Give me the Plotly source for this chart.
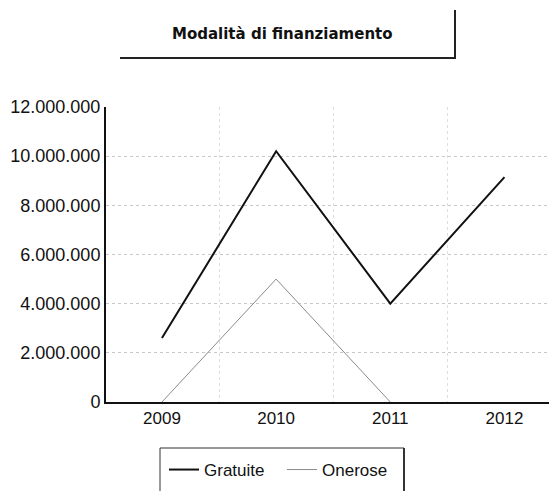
import plotly.graph_objects as go

years = ["2009", "2010", "2011", "2012"]
gratuite = [2600000, 10200000, 4000000, 9150000]
onerose = [0, 5000000, 0, None]
y_ticks = [0, 2000000, 4000000, 6000000, 8000000, 10000000, 12000000]

OFF = 8  # page body margin
W, H = 557 - OFF, 491 - OFF
L, R, T, B = 106 - OFF, 0, 107 - OFF, 89
pw = W - L - R
ph = H - T - B

def px(x):
    return (x - OFF - L) / pw

def py(y):
    return (T + ph - (y - OFF)) / ph

fig = go.Figure()
fig.add_trace(go.Scatter(x=years, y=gratuite, name="Gratuite", mode="lines",
                         line=dict(color="#111111", width=2)))
fig.add_trace(go.Scatter(x=years, y=onerose, name="Onerose", mode="lines",
                         line=dict(color="#8a8a8a", width=1)))

font = "Liberation Sans, Arial, sans-serif"

shapes = [
    # title box (bottom and right border)
    dict(type="line", xref="paper", yref="paper", x0=px(120), x1=px(456), y0=py(58), y1=py(58),
         line=dict(color="#222", width=2)),
    dict(type="line", xref="paper", yref="paper", x0=px(455), x1=px(455), y0=py(10), y1=py(59),
         line=dict(color="#222", width=2)),
    # legend box
    dict(type="line", xref="paper", yref="paper", x0=px(160), x1=px(404), y0=py(448), y1=py(448),
         line=dict(color="#333", width=1)),
    dict(type="line", xref="paper", yref="paper", x0=px(160), x1=px(160), y0=py(448), y1=py(495),
         line=dict(color="#333", width=1)),
    dict(type="line", xref="paper", yref="paper", x0=px(404), x1=px(404), y0=py(448), y1=py(495),
         line=dict(color="#333", width=2)),
]

fig.update_layout(
    width=W, height=H,
    margin=dict(l=L, r=R, t=T, b=B),
    paper_bgcolor="white", plot_bgcolor="white",
    separators=",.",
    font=dict(family=font, size=18, color="#111"),
    showlegend=True,
    legend=dict(orientation="h", x=px(164), y=py(452), xanchor="left", yanchor="top",
                font=dict(size=17), bgcolor="rgba(0,0,0,0)", borderwidth=0,
                entrywidth=73, entrywidthmode="pixels"),
    shapes=shapes,
    annotations=[dict(text="<b>Modalità di finanziamento</b>", xref="paper", yref="paper",
                      x=px(282), y=py(34), xanchor="center", yanchor="middle",
                      showarrow=False, font=dict(size=15, family="DejaVu Sans, sans-serif"))],
    xaxis=dict(type="category", range=[-0.49, 3.46], showline=True, linecolor="#111", linewidth=2,
               showgrid=True, gridcolor="#dedede", griddash="dot", gridwidth=1,
               tickson="boundaries", ticks="", tickfont=dict(size=17), zeroline=False),
    yaxis=dict(range=[0, 12000000], tickvals=y_ticks, tickformat=",d", showline=True,
               linecolor="#111", linewidth=2, showgrid=True, gridcolor="#c8c8c8",
               griddash="dot", gridwidth=1, ticks="", tickfont=dict(size=18), zeroline=False),
)

fig.write_html("out.html")
